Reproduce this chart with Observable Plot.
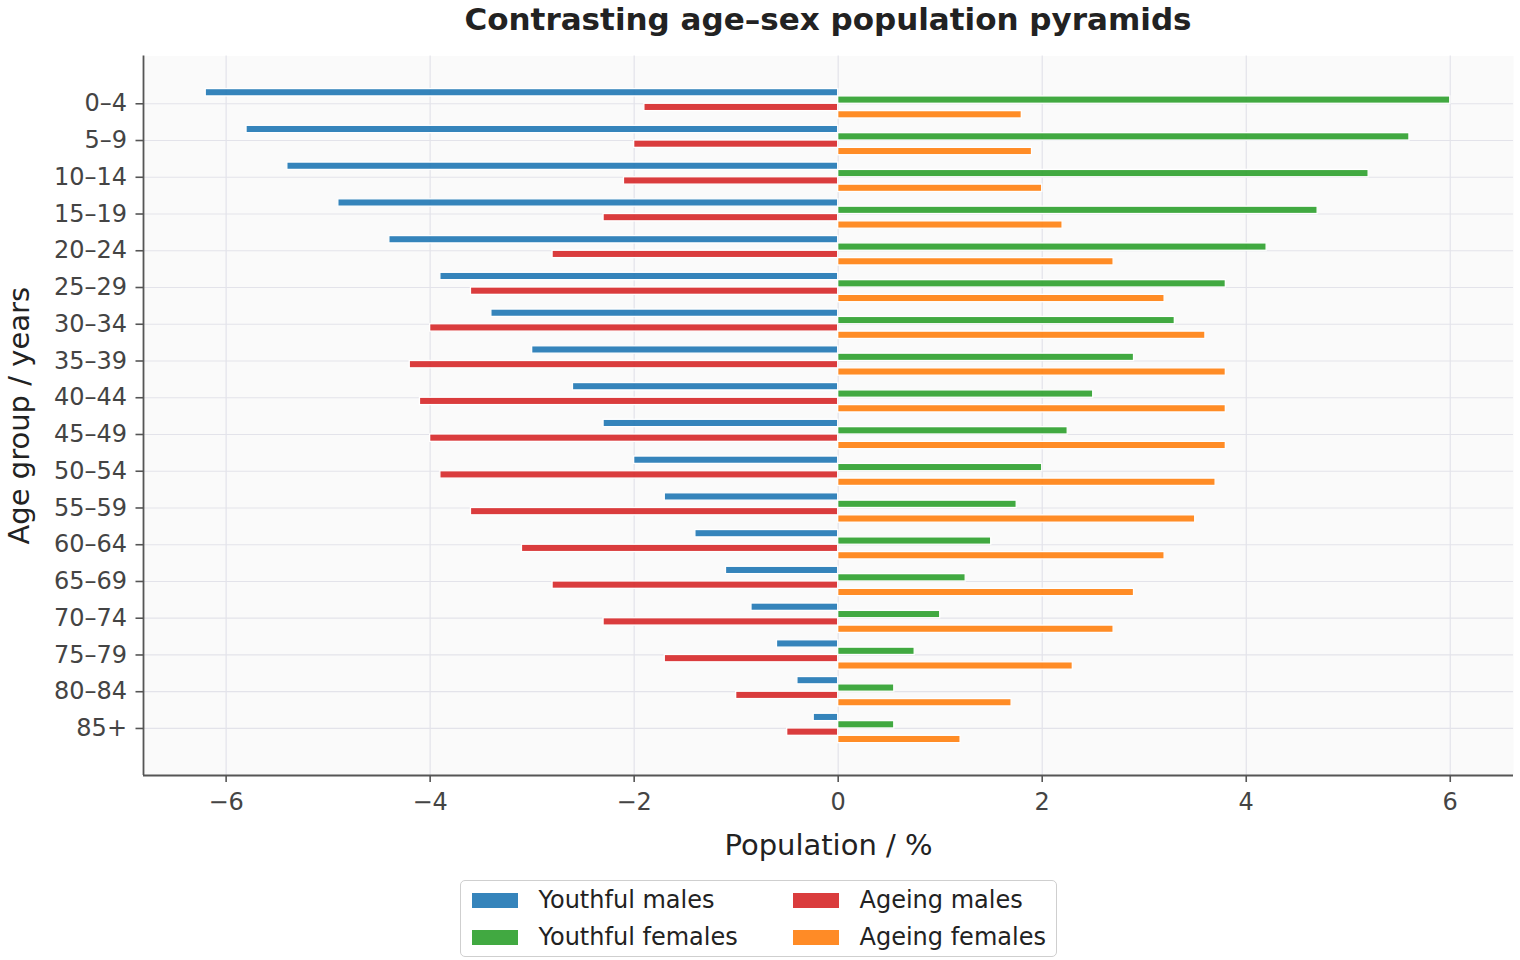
<!DOCTYPE html>
<html>
<head>
<meta charset="utf-8">
<script src="https://cdn.jsdelivr.net/npm/d3@7"></script>
<script src="https://cdn.jsdelivr.net/npm/@observablehq/plot@0.6"></script>
<style>
  body { margin: 0; background: #ffffff; font-family: "DejaVu Sans", sans-serif; }
  #wrap { position: relative; width: 1520px; height: 960px; overflow: hidden; }
  #title { position: absolute; left: 143px; width: 1370px; top: 4px; line-height: 31px;
           text-align: center; font-weight: bold; font-size: 31px; color: #222; white-space: nowrap; }
  #chart { position: absolute; left: 0; top: 48px; }
  #legend { position: absolute; left: 460px; top: 880px; width: 595px; height: 75px;
            border: 1.5px solid #cfcfcf; border-radius: 5px; background: #fff; }
  .item { position: absolute; display: flex; align-items: center; height: 30px;
          font-size: 24px; color: #222; white-space: nowrap; }
  .sw { width: 48px; height: 17px; margin-right: 20px; box-sizing: border-box; border: 1px solid #fff; }
</style>
</head>
<body>
<div id="wrap">
  <div id="title">Contrasting age–sex population pyramids</div>
  <div id="chart"></div>
  <div id="legend"></div>
</div>
<script>
// ---- data ----
const ageGroups = ["0–4","5–9","10–14","15–19","20–24","25–29","30–34","35–39","40–44",
                   "45–49","50–54","55–59","60–64","65–69","70–74","75–79","80–84","85+"];
const youthfulMales   = [-6.2,-5.8,-5.4,-4.9,-4.4,-3.9,-3.4,-3.0,-2.6,-2.3,-2.0,-1.7,-1.4,-1.1,-0.85,-0.6,-0.4,-0.24];
const ageingMales     = [-1.9,-2.0,-2.1,-2.3,-2.8,-3.6,-4.0,-4.2,-4.1,-4.0,-3.9,-3.6,-3.1,-2.8,-2.3,-1.7,-1.0,-0.5];
const youthfulFemales = [6.0,5.6,5.2,4.7,4.2,3.8,3.3,2.9,2.5,2.25,2.0,1.75,1.5,1.25,1.0,0.75,0.55,0.55];
const ageingFemales   = [1.8,1.9,2.0,2.2,2.7,3.2,3.6,3.8,3.8,3.8,3.7,3.5,3.2,2.9,2.7,2.3,1.7,1.2];
const xTicks = [-6,-4,-2,0,2,4,6];
const seriesNames = ["Youthful males","Youthful females","Ageing males","Ageing females"];
const seriesColors = ["#1f77b4","#2ca02c","#d62728","#ff7f0e"];

// ---- build table ----
const seriesValues = [youthfulMales, youthfulFemales, ageingMales, ageingFemales];
const seriesOffsets = [-0.3, -0.1, 0.1, 0.3];
const barHalf = 0.1;
const rows = [];
seriesValues.forEach((vals, s) => {
  vals.forEach((v, i) => {
    rows.push({series: seriesNames[s], idx: i, pos: i + seriesOffsets[s], value: v});
  });
});
const yIdx = ageGroups.map((_, i) => i);
const xDomain = [-6.81, 6.62];
const yDomain = [-1.3, 18.28];

const chart = Plot.plot({
  width: 1520,
  height: 824,
  marginLeft: 143,
  marginRight: 7,
  marginTop: 7.5,
  marginBottom: 97,
  style: {fontFamily: "DejaVu Sans, sans-serif", color: "#444", background: "transparent"},
  x: {domain: xDomain},
  y: {domain: yDomain, reverse: true},
  color: {domain: seriesNames, range: seriesColors},
  marks: [
    Plot.frame({fill: "#fafafa", stroke: null}),
    Plot.gridX(xTicks, {stroke: "#e3e3ea", strokeOpacity: 1, strokeWidth: 1.2}),
    Plot.gridY(yIdx, {stroke: "#e3e3ea", strokeOpacity: 1, strokeWidth: 1.2}),
    Plot.rect(rows, {
      x1: () => 0, x2: "value",
      y1: d => d.pos - barHalf, y2: d => d.pos + barHalf,
      fill: "series", fillOpacity: 0.9, stroke: "#ffffff", strokeWidth: 1.3
    }),
    Plot.ruleX([xDomain[0]], {stroke: "#555", strokeWidth: 1.8}),
    Plot.ruleY([yDomain[1]], {stroke: "#555", strokeWidth: 1.8}),
    Plot.axisX(xTicks, {tickSize: 7, tickPadding: 10, fontSize: 24, stroke: "#555", strokeWidth: 1.6, label: null}),
    Plot.axisY(yIdx, {tickSize: 7.5, tickPadding: 9, fontSize: 24, stroke: "#555", strokeWidth: 1.6,
                      tickFormat: i => ageGroups[i], label: null}),
    Plot.text(["Population / %"], {frameAnchor: "bottom", lineAnchor: "middle", textAnchor: "middle",
                                   dy: 70, fontSize: 29, fill: "#222"}),
    Plot.text(["Age group / years"], {frameAnchor: "left", lineAnchor: "middle", textAnchor: "middle",
                                      dx: -124, rotate: -90, fontSize: 29, fill: "#222"})
  ]
});
document.getElementById("chart").appendChild(chart);

// ---- legend ----
const legend = document.getElementById("legend");
const legendOrder = ["Youthful males","Ageing males","Youthful females","Ageing females"];
const alphaMix = c => {
  const col = d3.rgb(c);
  const bg = 250;
  return d3.rgb(col.r*0.9+bg*0.1, col.g*0.9+bg*0.1, col.b*0.9+bg*0.1).formatHex();
};
legendOrder.forEach((name, k) => {
  const colIdx = k % 2, rowIdx = Math.floor(k / 2);
  const item = document.createElement("div");
  item.className = "item";
  item.style.left = (colIdx === 0 ? 9.5 : 330.5) + "px";
  item.style.top = (rowIdx === 0 ? 4 : 41) + "px";
  const sw = document.createElement("span");
  sw.className = "sw";
  sw.style.background = alphaMix(seriesColors[seriesNames.indexOf(name)]);
  const tx = document.createElement("span");
  tx.textContent = name;
  item.appendChild(sw); item.appendChild(tx);
  legend.appendChild(item);
});
</script>
</body>
</html>
